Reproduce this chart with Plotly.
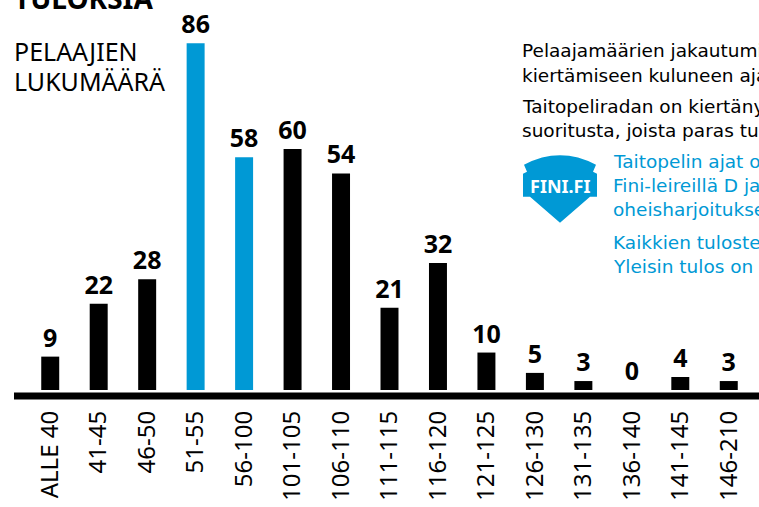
import plotly.graph_objects as go

categories = ["ALLE 40", "41-45", "46-50", "51-55", "56-100", "101-105", "106-110",
              "111-115", "116-120", "121-125", "126-130", "131-135", "136-140",
              "141-145", "146-210"]
players = [9, 22, 28, 86, 58, 60, 54, 21, 32, 10, 5, 3, 0, 4, 3]
highlight = ["51-55", "56-100"]

BLACK = "#000000"
BLUE = "#0099d5"
FONT = "Noto Sans"
BODY = "DejaVu Sans"

W, H = 759, 507
L, R, T, B = 26, 6, 30, 116.5
PW, PH = W - L - R, H - T - B
SCALE = 4.076  # pixels per player


def px(x):
    return (x - L) / PW


def py(y):
    return (H - B - y) / PH


colors = [BLUE if c in highlight else BLACK for c in categories]
bases = [-0.8 if v > 0 else 0 for v in players]

fig = go.Figure()
fig.add_trace(go.Bar(
    x=categories, y=players, base=bases,
    marker=dict(color=colors, line=dict(width=0)),
    text=[str(v) for v in players],
    textposition="outside",
    constraintext="none",
    textfont=dict(family=FONT, size=25, color=BLACK, weight="bold"),
    cliponaxis=False,
    hoverinfo="x+text",
))

# baseline
shapes = [dict(type="rect", xref="paper", yref="paper",
               x0=px(14), x1=px(765), y0=py(400), y1=py(393),
               fillcolor=BLACK, line=dict(width=0), layer="above")]

# FINI.FI logo
pts = [(593, 172), (597, 174), (597, 197), (590, 197),
       (560, 223), (530, 197), (523, 197), (523, 174), (527, 172)]
path = f"M {px(524)},{py(165)} Q {px(560)},{py(146)} {px(596)},{py(165)} "
for p in pts:
    path += f"L {px(p[0])},{py(p[1])} "
path += "Z"
shapes.append(dict(type="path", xref="paper", yref="paper", path=path,
                   fillcolor=BLUE, line=dict(width=0)))

ann = []


def add_text(x, y, text, size, color=BLACK, bold=False, xanchor="left", family=FONT):
    ann.append(dict(x=px(x), y=py(y), xref="paper", yref="paper", text=text,
                    showarrow=False, xanchor=xanchor, yanchor="middle",
                    font=dict(family=family, size=size, color=color,
                              weight="bold" if bold else "normal")))


add_text(12, -2, "TULOKSIA", 28, bold=True)
add_text(12, 51, "PELAAJIEN", 25)
add_text(12, 81, "LUKUMÄÄRÄ", 25)

BS = 18.5
add_text(520, 51, "Pelaajamäärien jakautuminen taitopeliradan", BS, family=BODY)
add_text(520, 76, "kiertämiseen kuluneen ajan mukaan.", BS, family=BODY)
add_text(520, 107, "Taitopeliradan on kiertänyt", BS, family=BODY)
add_text(520, 131, "suoritusta, joista paras tulos", BS, family=BODY)

add_text(611, 162, "Taitopelin ajat ovat", BS, color=BLUE, family=BODY)
add_text(611, 186, "Fini-leireillä D ja C", BS, color=BLUE, family=BODY)
add_text(611, 210, "oheisharjoituksena", BS, color=BLUE, family=BODY)
add_text(611, 243, "Kaikkien tulosten", BS, color=BLUE, family=BODY)
add_text(611, 267, "Yleisin tulos on", BS, color=BLUE, family=BODY)

add_text(560, 186, "FINI.FI", 18, color="#ffffff", bold=True, xanchor="center")

fig.update_layout(
    width=W, height=H,
    margin=dict(l=L, r=R, t=T, b=B),
    paper_bgcolor="white", plot_bgcolor="white",
    showlegend=False,
    bargap=0.629,
    shapes=shapes,
    annotations=ann,
    xaxis=dict(type="category", tickangle=-90, showgrid=False, zeroline=False,
               showline=False, ticks="", ticklabelstandoff=15,
               tickfont=dict(family=FONT, size=24, color=BLACK)),
    yaxis=dict(range=[0, PH / SCALE], visible=False, showgrid=False, zeroline=False),
)

fig.write_html("out.html",
               config={"displayModeBar": False},
               post_script="document.body.style.margin='0';"
                           "document.body.style.overflow='hidden';")
